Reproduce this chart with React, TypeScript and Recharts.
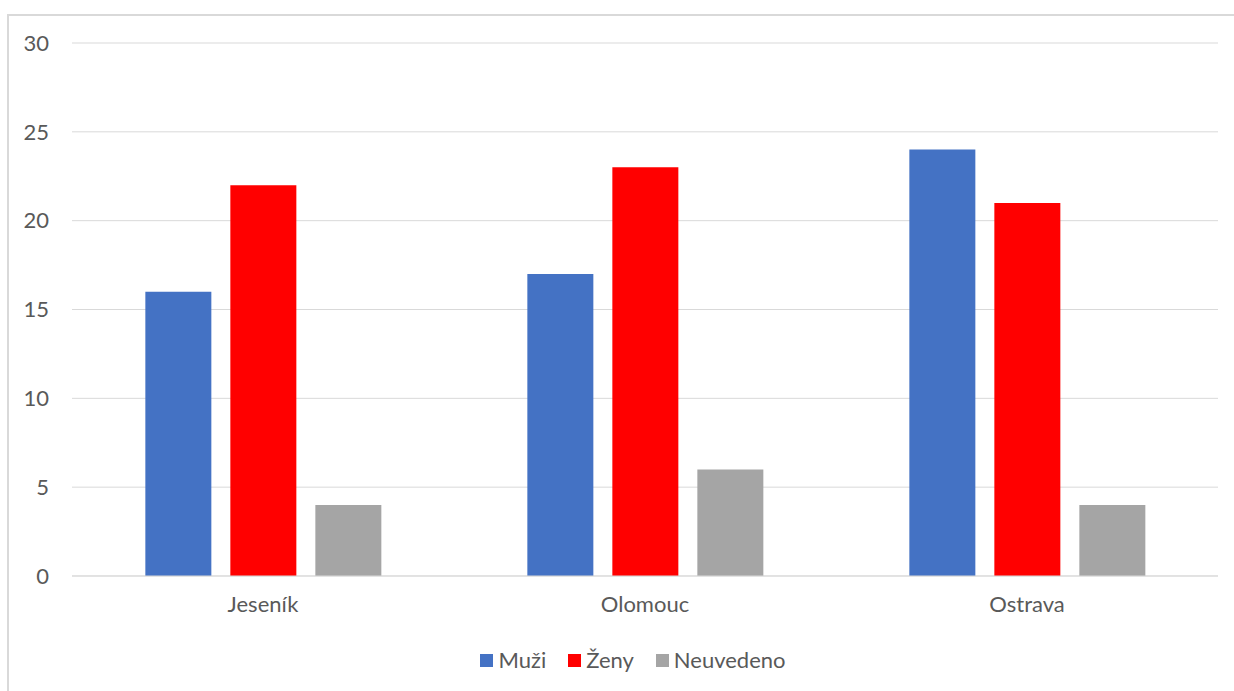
import { BarChart, Bar, XAxis, YAxis, CartesianGrid, Legend } from "recharts";

const cities = ["Jeseník", "Olomouc", "Ostrava"];
const muzi = [16, 17, 24];
const zeny = [22, 23, 21];
const neuvedeno = [4, 6, 4];
const yTicks = [0, 5, 10, 15, 20, 25, 30];

const series = [
  { key: "muzi", name: "Muži", color: "#4472C4" },
  { key: "zeny", name: "Ženy", color: "#FF0000" },
  { key: "neuvedeno", name: "Neuvedeno", color: "#A5A5A5" },
];

const data = cities.map((city, i) => ({
  city,
  muzi: muzi[i],
  zeny: zeny[i],
  neuvedeno: neuvedeno[i],
}));

const FONT = "Lato, 'Open Sans', sans-serif";
const TEXT = "#595959";

function ChartLegend() {
  return (
    <div
      style={{
        display: "flex",
        justifyContent: "center",
        gap: 22,
        paddingLeft: 48,
        fontFamily: FONT,
        fontSize: 22,
        lineHeight: "22px",
        height: 22,
        color: TEXT,
      }}
    >
      {series.map((s) => (
        <span key={s.key} style={{ display: "flex", alignItems: "center", gap: 5 }}>
          <span style={{ width: 13, height: 13, background: s.color, display: "inline-block" }} />
          {s.name}
        </span>
      ))}
    </div>
  );
}

export default function App() {
  return (
    <div style={{ position: "fixed", left: 0, top: 0, width: 1234, height: 691, overflow: "hidden", background: "#fff" }}>
      {/* chart frame, cut off on the right and bottom like the reference */}
      <div
        style={{
          position: "absolute",
          left: 7,
          top: 14,
          width: 1227,
          height: 677,
          borderLeft: "2px solid #d9d9d9",
          borderTop: "2px solid #d9d9d9",
          boxSizing: "border-box",
        }}
      />
      <div style={{ position: "absolute", left: 0, top: 0 }}>
        <BarChart
          width={1234}
          height={691}
          data={data}
          margin={{ top: 43, right: 16, left: 0, bottom: 20 }}
          barCategoryGap="19.2%"
          barGap={19}
        >
          <CartesianGrid vertical={false} stroke="#d9d9d9" strokeWidth={1} />
          <XAxis
            dataKey="city"
            axisLine={{ stroke: "#d9d9d9" }}
            tickLine={false}
            tickSize={0}
            tickMargin={20}
            height={73}
            tick={{ fontFamily: FONT, fontSize: 22, fill: TEXT }}
          />
          <YAxis
            width={72}
            domain={[0, 30]}
            ticks={yTicks}
            axisLine={false}
            tickLine={false}
            tickSize={0}
            tickMargin={23}
            tick={{ fontFamily: FONT, fontSize: 22, fill: TEXT }}
          />
          <Legend verticalAlign="bottom" content={<ChartLegend />} />
          {series.map((s) => (
            <Bar key={s.key} dataKey={s.key} name={s.name} fill={s.color} isAnimationActive={false} />
          ))}
        </BarChart>
      </div>
    </div>
  );
}
